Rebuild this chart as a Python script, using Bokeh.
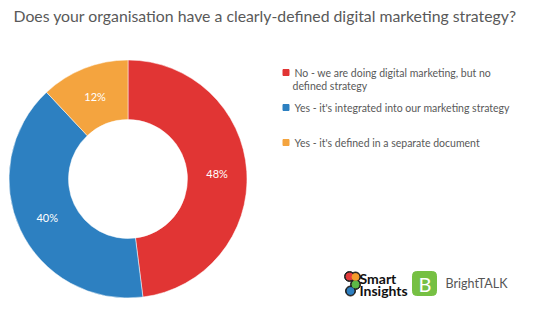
import numpy as np
from bokeh.plotting import figure
from bokeh.models import Range1d, ColumnDataSource
from bokeh.core.properties import value
from bokeh.embed import file_html
from bokeh.resources import INLINE

# ---- data ----
title = "Does your organisation have a clearly-defined digital marketing strategy?"
categories = [
    "No - we are doing digital marketing, but no defined strategy",
    "Yes - it's integrated into our marketing strategy",
    "Yes - it's defined in a separate document",
]
legend_lines = [
    ["No - we are doing digital marketing, but no", "defined strategy"],
    ["Yes - it's integrated into our marketing strategy"],
    ["Yes - it's defined in a separate document"],
]
shares = [48, 40, 12]
labels = ["48%", "40%", "12%"]
colors = ["#E13534", "#2D80C1", "#F4A43F"]

W, H = 536, 312
def Y(y):
    return H - y

p = figure(width=W, height=H, output_backend="svg", toolbar_location=None,
           x_range=Range1d(0, W), y_range=Range1d(0, H), min_border=0)
p.axis.visible = False
p.grid.visible = False
p.outline_line_color = None
p.background_fill_color = "white"
p.border_fill_color = "white"

# ---- donut ----
cx, cy = 127.5, Y(178.5)
r_out, r_in = 119, 59.5
vals = np.array(shares, dtype=float)
frac = vals / vals.sum()
cum = np.concatenate([[0], np.cumsum(frac)])
start = np.pi / 2 - cum[:-1] * 2 * np.pi
end = np.pi / 2 - cum[1:] * 2 * np.pi
mid = (start + end) / 2
src = ColumnDataSource(dict(start=start, end=end, color=colors,
                            lx=cx + (r_out + r_in) / 2 * np.cos(mid),
                            ly=cy + (r_out + r_in) / 2 * np.sin(mid),
                            label=labels))
p.annular_wedge(x=cx, y=cy, inner_radius=r_in, outer_radius=r_out,
                start_angle="start", end_angle="end", direction="clock",
                color="color", line_color="white", line_width=0.5, source=src)
p.text(x="lx", y="ly", text="label", source=src, text_color="white",
       text_font=value("Lato"), text_font_size="11px",
       text_align="center", text_baseline="middle")

# ---- title ----
p.text(x=[13], y=[Y(15)], text=[title], text_color="#595959",
       text_font=value("Lato"), text_font_size="15.8px", text_baseline="middle")

# ---- legend ----
leg_y = [72, 107, 142]
for i, (lines, c) in enumerate(zip(legend_lines, colors)):
    p.rect(x=[285.5], y=[Y(leg_y[i])], width=6, height=6, color=c)
    for j, ln in enumerate(lines):
        p.text(x=[294 if j == 0 else 292], y=[Y(leg_y[i] + 13 * j)], text=[ln],
               text_color="#595959", text_font=value("Lato"),
               text_font_size="10.5px", text_baseline="middle")

# ---- logos ----
# Smart Insights icon
ix = [349.0, 355.0, 355.0, 350.0]
iy = [Y(276), Y(276.5), Y(284), Y(290.5)]
p.circle(x=ix, y=iy, radius=5.0, color="#222222")
p.circle(x=ix, y=iy, radius=3.5, color=["#E33B3B", "#F39B2B", "#5DB947", "#2D7FC1"])
p.text(x=[359, 359], y=[Y(278), Y(289.5)], text=["Smart", "Insights"],
       text_color="#111111", text_font=value("Lato"), text_font_style="bold",
       text_font_size="14px", text_baseline="middle")
# BrightTALK
p.quad(left=[412], right=[436], top=[Y(271)], bottom=[Y(295)],
       color="#76C043", border_radius=4)
p.text(x=[424.5], y=[Y(283.5)], text=["B"], text_color="white",
       text_font=value("Lato"), text_font_size="20px",
       text_align="center", text_baseline="middle")
p.text(x=[445], y=[Y(283)], text=["BrightTALK"], text_color="#555555",
       text_font=value("Lato"), text_font_size="12.5px", text_baseline="middle")

open("out.html", "w").write(file_html(p, INLINE))
